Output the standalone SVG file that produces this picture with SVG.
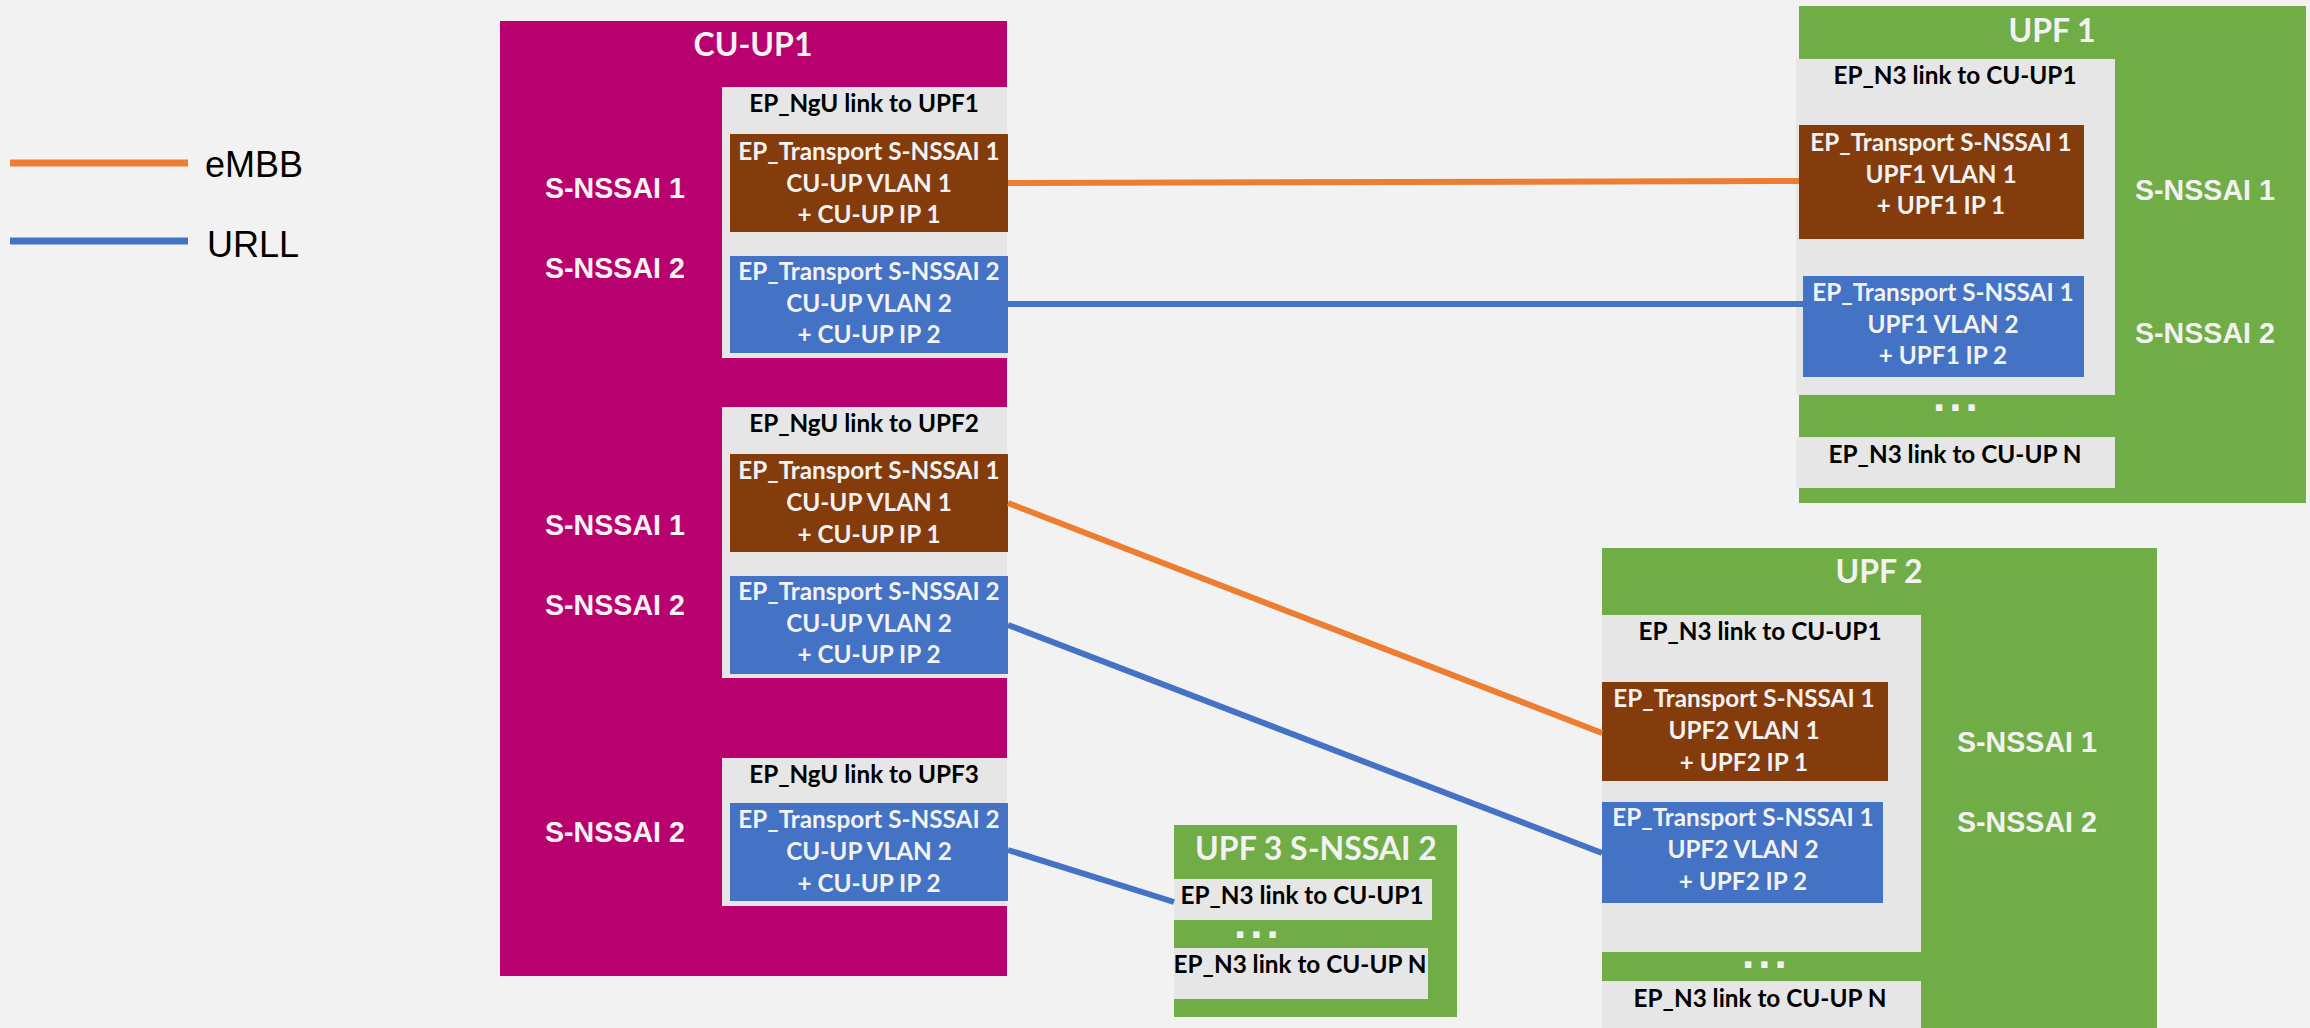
<svg xmlns="http://www.w3.org/2000/svg" width="2310" height="1028" viewBox="0 0 2310 1028">
<style>
.bg{fill:#F2F2F2}
.cu{fill:#B8006E}
.upf{fill:#70AD47}
.ep{fill:#E6E6E6}
.br{fill:#843C0C}
.bl{fill:#4472C4}
.t{font-family:Lato,"Liberation Sans",sans-serif;font-weight:bold;text-anchor:middle}
.title{font-size:32px;fill:#F2F2F2}
.ept{font-size:24.3px;fill:#000}
.bt{font-size:24.3px;fill:#F2F2F2}
.sn{font-family:"Liberation Sans",Arial,sans-serif;font-weight:bold;font-size:28.6px;fill:#F2F2F2}
.dots{font-family:"Liberation Sans",Arial,sans-serif;font-weight:bold;font-size:44px;fill:#F2F2F2;letter-spacing:4px}
.lg{font-family:"Liberation Sans",Arial,sans-serif;font-size:36px;fill:#000}
.emb{stroke:#ED7D31;stroke-width:6;fill:none}
.url{stroke:#4472C4;stroke-width:6;fill:none}
</style>
<rect class="bg" x="0" y="0" width="2310" height="1028"/>

<g id="legend">
<line x1="10" y1="163" x2="188" y2="163" stroke="#ED7D31" stroke-width="7"/>
<line x1="10" y1="241" x2="188" y2="241" stroke="#4472C4" stroke-width="7"/>
<text class="lg" x="205" y="177">eMBB</text>
<text class="lg" x="207" y="257">URLL</text>
</g>

<g id="cu-up1">
<rect class="cu" x="500" y="21" width="507" height="955"/>
<text class="t title" x="753" y="56">CU-UP1</text>
<text class="sn" x="545" y="198">S-NSSAI 1</text>
<text class="sn" x="545" y="278">S-NSSAI 2</text>
<text class="sn" x="545" y="535">S-NSSAI 1</text>
<text class="sn" x="545" y="615">S-NSSAI 2</text>
<text class="sn" x="545" y="842">S-NSSAI 2</text>
</g>

<g id="ep-ngu-upf1">
<rect class="ep" x="722" y="87" width="285" height="271"/>
<text class="t ept" x="864" y="112">EP_NgU link to UPF1</text>
<rect class="br" x="730" y="134" width="278" height="98"/>
<text class="t bt" x="869" y="160">EP_Transport S-NSSAI 1</text>
<text class="t bt" x="869" y="192">CU-UP VLAN 1</text>
<text class="t bt" x="869" y="223">+ CU-UP IP 1</text>
<rect class="bl" x="730" y="256" width="278" height="97"/>
<text class="t bt" x="869" y="280">EP_Transport S-NSSAI 2</text>
<text class="t bt" x="869" y="312">CU-UP VLAN 2</text>
<text class="t bt" x="869" y="343">+ CU-UP IP 2</text>
</g>

<g id="ep-ngu-upf2">
<rect class="ep" x="722" y="407" width="285" height="271"/>
<text class="t ept" x="864" y="432">EP_NgU link to UPF2</text>
<rect class="br" x="730" y="454" width="278" height="98"/>
<text class="t bt" x="869" y="479">EP_Transport S-NSSAI 1</text>
<text class="t bt" x="869" y="511">CU-UP VLAN 1</text>
<text class="t bt" x="869" y="543">+ CU-UP IP 1</text>
<rect class="bl" x="730" y="576" width="278" height="98"/>
<text class="t bt" x="869" y="600">EP_Transport S-NSSAI 2</text>
<text class="t bt" x="869" y="632">CU-UP VLAN 2</text>
<text class="t bt" x="869" y="663">+ CU-UP IP 2</text>
</g>

<g id="ep-ngu-upf3">
<rect class="ep" x="722" y="758" width="285" height="148"/>
<text class="t ept" x="864" y="783">EP_NgU link to UPF3</text>
<rect class="bl" x="730" y="803" width="278" height="98"/>
<text class="t bt" x="869" y="828">EP_Transport S-NSSAI 2</text>
<text class="t bt" x="869" y="860">CU-UP VLAN 2</text>
<text class="t bt" x="869" y="892">+ CU-UP IP 2</text>
</g>

<g id="upf1">
<rect class="upf" x="1799" y="6" width="507" height="497"/>
<text class="t title" x="2052" y="42">UPF 1</text>
<rect class="ep" x="1796" y="59" width="319" height="336"/>
<text class="t ept" x="1955" y="84">EP_N3 link to CU-UP1</text>
<rect class="br" x="1799" y="125" width="285" height="114"/>
<text class="t bt" x="1941" y="151">EP_Transport S-NSSAI 1</text>
<text class="t bt" x="1941" y="183">UPF1 VLAN 1</text>
<text class="t bt" x="1941" y="214">+ UPF1 IP 1</text>
<rect class="bl" x="1803" y="276" width="281" height="101"/>
<text class="t bt" x="1943" y="301">EP_Transport S-NSSAI 1</text>
<text class="t bt" x="1943" y="333">UPF1 VLAN 2</text>
<text class="t bt" x="1943" y="364">+ UPF1 IP 2</text>
<text class="sn" x="2135" y="200">S-NSSAI 1</text>
<text class="sn" x="2135" y="343">S-NSSAI 2</text>
<text class="dots" x="1933" y="411">...</text>
<rect class="ep" x="1796" y="437" width="319" height="51"/>
<text class="t ept" x="1955" y="463">EP_N3 link to CU-UP N</text>
</g>

<g id="upf2">
<rect class="upf" x="1602" y="548" width="555" height="480"/>
<text class="t title" x="1879" y="583">UPF 2</text>
<rect class="ep" x="1602" y="615" width="319" height="337"/>
<text class="t ept" x="1760" y="640">EP_N3 link to CU-UP1</text>
<rect class="br" x="1602" y="682" width="286" height="99"/>
<text class="t bt" x="1744" y="707">EP_Transport S-NSSAI 1</text>
<text class="t bt" x="1744" y="739">UPF2 VLAN 1</text>
<text class="t bt" x="1744" y="771">+ UPF2 IP 1</text>
<rect class="bl" x="1602" y="802" width="281" height="101"/>
<text class="t bt" x="1743" y="826">EP_Transport S-NSSAI 1</text>
<text class="t bt" x="1743" y="858">UPF2 VLAN 2</text>
<text class="t bt" x="1743" y="890">+ UPF2 IP 2</text>
<text class="sn" x="1957" y="752">S-NSSAI 1</text>
<text class="sn" x="1957" y="832">S-NSSAI 2</text>
<text class="dots" x="1742" y="968">...</text>
<rect class="ep" x="1602" y="981" width="319" height="47"/>
<text class="t ept" x="1760" y="1007">EP_N3 link to CU-UP N</text>
</g>

<g id="upf3">
<rect class="upf" x="1174" y="825" width="283" height="192"/>
<text class="t title" x="1316" y="860">UPF 3 S-NSSAI 2</text>
<rect class="ep" x="1174" y="879" width="258" height="41"/>
<text class="t ept" x="1302" y="904">EP_N3 link to CU-UP1</text>
<text class="dots" x="1234" y="938">...</text>
<rect class="ep" x="1174" y="948" width="254" height="51"/>
<text class="t ept" x="1300" y="973">EP_N3 link to CU-UP N</text>
</g>

<g id="connectors">
<line class="emb" x1="1008" y1="183" x2="1799" y2="181"/>
<line class="url" x1="1008" y1="304" x2="1803" y2="304"/>
<line class="emb" x1="1008" y1="503" x2="1602" y2="733"/>
<line class="url" x1="1008" y1="625" x2="1602" y2="853"/>
<line class="url" x1="1008" y1="850" x2="1174" y2="902"/>
</g>
</svg>
